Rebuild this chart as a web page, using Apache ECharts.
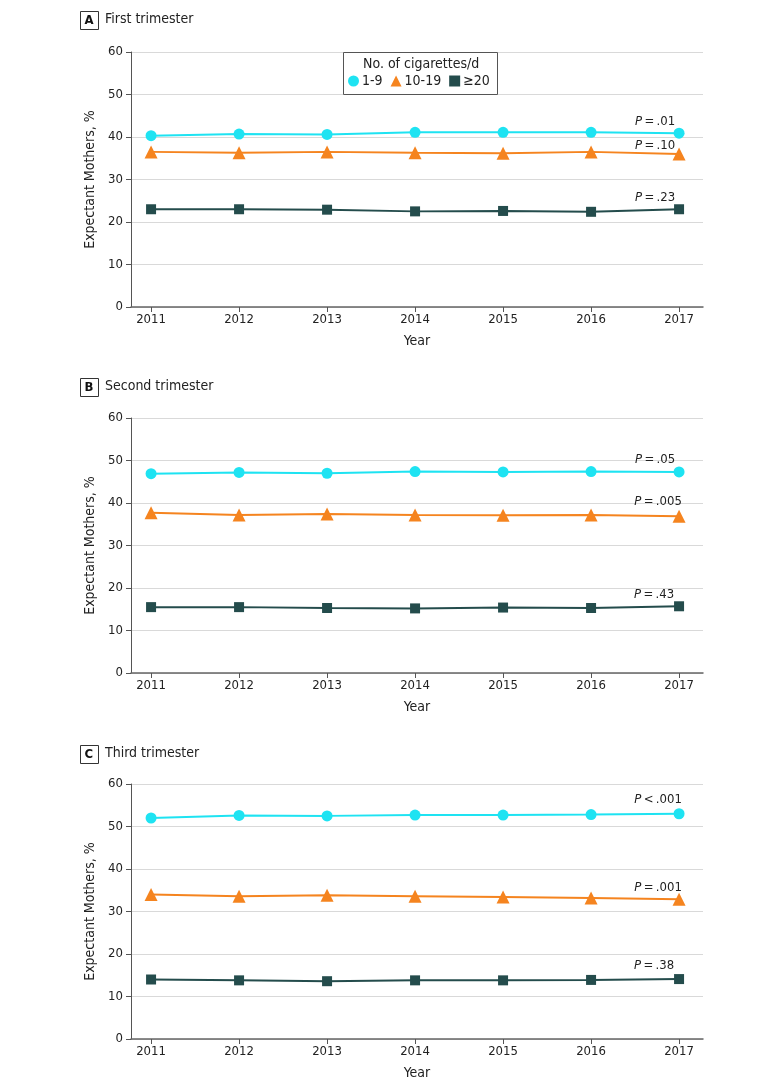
<!DOCTYPE html>
<html>
<head>
<meta charset="utf-8">
<script src="https://cdn.jsdelivr.net/npm/echarts@6/dist/echarts.min.js"></script>
<style>html,body{margin:0;padding:0;background:#fff}#c{width:780px;height:1092px}</style>
</head>
<body>
<div id="c"></div>
<script>
var years = [2011, 2012, 2013, 2014, 2015, 2016, 2017];
var yTicks = [0, 10, 20, 30, 40, 50, 60];
var seriesNames = ['1-9', '10-19', '≥20'];
var panelLetters = ['A', 'B', 'C'];
var panelTitles = ['First trimester', 'Second trimester', 'Third trimester'];

// Panel A: first trimester
var firstLight = [40.3, 40.7, 40.6, 41.1, 41.1, 41.1, 40.9];
var firstModerate = [36.5, 36.3, 36.5, 36.3, 36.2, 36.5, 36.0];
var firstHeavy = [23.0, 23.0, 22.9, 22.5, 22.6, 22.4, 23.0];
var firstP = ['= .01', '= .10', '= .23'];

// Panel B: second trimester
var secondLight = [46.9, 47.2, 47.0, 47.4, 47.3, 47.4, 47.3];
var secondModerate = [37.7, 37.2, 37.4, 37.2, 37.1, 37.2, 36.9];
var secondHeavy = [15.5, 15.5, 15.3, 15.2, 15.4, 15.3, 15.7];
var secondP = ['= .05', '= .005', '= .43'];

// Panel C: third trimester
var thirdLight = [52.0, 52.6, 52.5, 52.7, 52.7, 52.8, 53.0];
var thirdModerate = [34.0, 33.6, 33.8, 33.6, 33.4, 33.2, 32.9];
var thirdHeavy = [14.0, 13.8, 13.6, 13.8, 13.8, 13.9, 14.1];
var thirdP = ['< .001', '= .001', '= .38'];

var panels = [
  [firstLight, firstModerate, firstHeavy, firstP],
  [secondLight, secondModerate, secondHeavy, secondP],
  [thirdLight, thirdModerate, thirdHeavy, thirdP]
];

// layout / style constants
var FONT = '"Liberation Sans Narrow", "DejaVu Sans Condensed", "Noto Sans", sans-serif';
var colors = ['#1EE3F2', '#F5841F', '#244C4C'];
var symbols = ['circle', 'triangle', 'rect'];
var symbolSizes = [11, 13, 10];
var gridTops = [52, 418, 784];
var gridHeight = 255;
var headerTops = [11, 378, 745];
var pLabelOffsets = [
  [[-24, -12], [-24, -8], [-24, -12]],
  [[-24, -12], [-21, -15], [-25, -12]],
  [[-21, -14], [-21, -12], [-25, -13]]
];

var chart = echarts.init(document.getElementById('c'), null, {renderer: 'canvas'});

var grids = [], xAxes = [], yAxes = [], series = [], graphics = [];
panels.forEach(function (p, gi) {
  grids.push({left: 131, width: 572, top: gridTops[gi], height: gridHeight, containLabel: false});
  xAxes.push({
    type: 'value', gridIndex: gi, min: 2010.772, max: 2017.272,
    name: 'Year', nameLocation: 'middle', nameGap: 27,
    nameTextStyle: {fontFamily: FONT, fontSize: 14, color: '#222'},
    axisLine: {show: true, onZero: false, lineStyle: {color: '#666', width: 1.5}},
    axisTick: {show: true, length: 5, customValues: years, lineStyle: {color: '#555'}},
    axisLabel: {customValues: years, fontFamily: FONT, fontSize: 13, color: '#222', margin: 6,
      formatter: function (v) { return String(Math.round(v)); }},
    splitLine: {show: false}
  });
  yAxes.push({
    type: 'value', gridIndex: gi, min: 0, max: 60, interval: 10,
    name: 'Expectant Mothers, %', nameLocation: 'middle', nameGap: 34,
    nameTextStyle: {fontFamily: FONT, fontSize: 14, color: '#222'},
    axisLine: {show: true, lineStyle: {color: '#555', width: 1}},
    axisTick: {show: true, length: 5, lineStyle: {color: '#555'}},
    axisLabel: {fontFamily: FONT, fontSize: 13, color: '#222', margin: 8},
    splitLine: {show: true, lineStyle: {color: '#d9d9d9', width: 1}}
  });
  for (var s = 0; s < 3; s++) {
    (function (s) {
      var vals = p[s];
      var ptxt = p[3][s].replace(' ', '\u2009');
      series.push({
        type: 'line', name: seriesNames[s], xAxisIndex: gi, yAxisIndex: gi,
        data: years.map(function (y, i) { return [y, vals[i]]; }),
        symbol: symbols[s], symbolSize: symbolSizes[s],
        lineStyle: {color: colors[s], width: 2},
        itemStyle: {color: colors[s], borderColor: colors[s], borderWidth: 0},
        emphasis: {disabled: true},
        z: 3 + s,
        label: {
          show: true, position: 'inside', offset: pLabelOffsets[gi][s],
          formatter: function (prm) {
            return prm.dataIndex === years.length - 1 ? '{i|P}{n|\u2009' + ptxt + '}' : '';
          },
          rich: {
            i: {fontFamily: FONT, fontSize: 13, fontStyle: 'italic', color: '#222'},
            n: {fontFamily: FONT, fontSize: 13, color: '#222'}
          }
        }
      });
    })(s);
  }
  // Panel header: boxed letter + title
  graphics.push({
    type: 'rect', left: 80, top: headerTops[gi], shape: {width: 18, height: 18},
    style: {fill: '#fff', stroke: '#333', lineWidth: 1}
  });
  graphics.push({
    type: 'text', left: 84.5, top: headerTops[gi] + 3,
    style: {text: panelLetters[gi], font: 'bold 13px ' + FONT, fill: '#111'}
  });
  graphics.push({
    type: 'text', left: 105, top: headerTops[gi] + 1.5,
    style: {text: panelTitles[gi], font: '14px ' + FONT, fill: '#222'}
  });
});

// Legend box (panel A)
graphics.push({
  type: 'rect', left: 343, top: 52, shape: {width: 154, height: 42},
  style: {fill: '#fff', stroke: '#555', lineWidth: 1}, z: 10
});
graphics.push({
  type: 'text', left: 363, top: 57,
  style: {text: 'No. of cigarettes/d', font: '14px ' + FONT, fill: '#222'}, z: 11
});

chart.setOption({
  animation: false,
  backgroundColor: '#fff',
  grid: grids,
  xAxis: xAxes,
  yAxis: yAxes,
  series: series,
  graphic: graphics,
  legend: {
    left: 348, top: 74, padding: 0, itemGap: 8, itemWidth: 11, itemHeight: 11,
    z: 12,
    textStyle: {fontFamily: FONT, fontSize: 14, color: '#222', padding: [0, 0, 0, -2]},
    selectedMode: false,
    data: [
      {name: '1-9', icon: 'circle', itemStyle: {color: colors[0]}},
      {name: '10-19', icon: 'triangle', itemStyle: {color: colors[1]}},
      {name: '≥20', icon: 'rect', itemStyle: {color: colors[2]}}
    ]
  }
});
</script>
</body>
</html>
